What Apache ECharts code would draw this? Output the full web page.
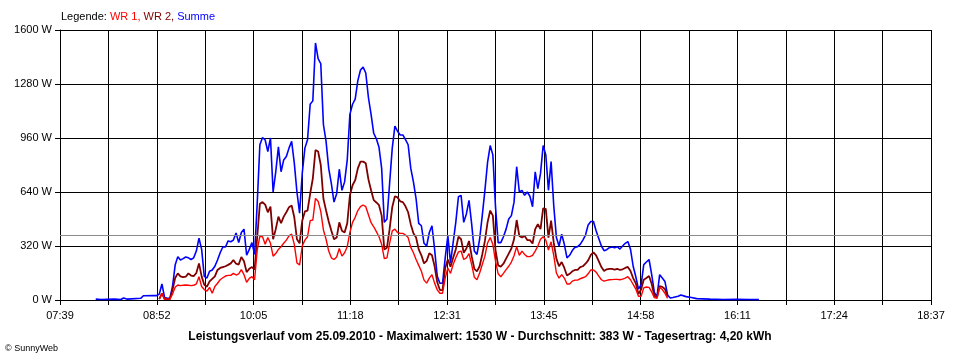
<!DOCTYPE html>
<html><head><meta charset="utf-8">
<script src="https://cdn.jsdelivr.net/npm/echarts@6/dist/echarts.min.js"></script>
<style>html,body{margin:0;padding:0;background:#fff}#c{width:960px;height:360px}</style>
</head><body><div id="c"></div>
<script>
const times = [
'08:06','08:10','08:20','08:25','08:27','08:30','08:40','08:42','08:50',
'08:52','08:54','08:56','08:58','09:00','09:02','09:04','09:06','09:08','09:10',
'09:12','09:14','09:16','09:18','09:20','09:22','09:24','09:26','09:28','09:30',
'09:32','09:34','09:36','09:38','09:40','09:42','09:44','09:46','09:48','09:50',
'09:52','09:54','09:56','09:58','10:00','10:02','10:04','10:06','10:08','10:10',
'10:12','10:14','10:16','10:18','10:20','10:22','10:24','10:26','10:28','10:30',
'10:32','10:34','10:36','10:38','10:40','10:42','10:44','10:46','10:48','10:50',
'10:52','10:54','10:56','10:58','11:00','11:02','11:04','11:06','11:08','11:10',
'11:12','11:14','11:16','11:18','11:20','11:22','11:24','11:26','11:28','11:30',
'11:32','11:34','11:36','11:38','11:40','11:42','11:44','11:46','11:48','11:50',
'11:52','11:54','11:56','11:58','12:00','12:02','12:04','12:06','12:08','12:10',
'12:12','12:14','12:16','12:18','12:20','12:22','12:24','12:26','12:28','12:30',
'12:32','12:34','12:36','12:38','12:40','12:42','12:44','12:46','12:48','12:50',
'12:52','12:54','12:56','12:58','13:00','13:02','13:04','13:06','13:08','13:10',
'13:12','13:14','13:16','13:18','13:20','13:22','13:24','13:26','13:28','13:30',
'13:32','13:34','13:36','13:38','13:40','13:42','13:44','13:46','13:48','13:50',
'13:52','13:54','13:56','13:58','14:00','14:02','14:04','14:06','14:08','14:10',
'14:12','14:14','14:16','14:18','14:20','14:22','14:24','14:26','14:28','14:30',
'14:32','14:34','14:36','14:38','14:40','14:42','14:44','14:46','14:48','14:50',
'14:52','14:54','14:56','14:58','15:00','15:02','15:04','15:06','15:08','15:10',
'15:12','15:14','15:16','15:18','15:20',
'15:22','15:26','15:28','15:32','15:36','15:40','15:50','16:00','16:10','16:20','16:27'
];
const summe = [
5,3,5,3,12,5,10,25,26,
26,35,95,15,10,10,80,207,257,237,
245,255,250,240,250,290,367,300,140,130,
170,178,200,237,280,314,314,350,345,355,
397,340,400,420,265,300,340,270,575,920,
963,948,880,960,640,760,907,760,830,850,
900,940,811,640,515,750,900,950,1160,1180,
1523,1430,1400,1040,940,780,690,580,630,775,
650,700,830,1100,1160,1190,1300,1363,1380,1345,
1200,1100,988,955,905,780,460,480,690,900,
1030,1000,978,978,950,920,780,700,600,454,
440,336,320,400,440,300,140,99,99,250,
380,220,340,460,612,620,460,510,590,450,
290,270,360,500,650,815,915,860,553,340,
340,375,420,480,500,580,790,640,650,620,
640,615,553,760,660,750,915,860,650,820,
560,370,320,390,330,250,265,293,312,316,
330,355,385,445,465,465,410,365,320,292,
298,310,314,310,316,302,320,336,346,300,
200,138,65,90,210,225,240,150,45,18,
150,130,110,30,12,
15,22,30,20,15,8,5,3,4,3,2
];
const wr1 = [
null,null,null,null,null,null,null,null,null,
null,5,40,5,5,5,35,75,89,85,
87,89,87,85,87,95,138,80,62,52,
75,40,80,99,120,132,142,146,146,158,
148,155,180,150,105,128,138,120,296,378,
375,330,370,336,260,275,300,316,336,355,
380,390,330,220,207,320,355,375,470,474,
602,585,525,415,360,290,250,240,255,305,
260,280,316,400,460,490,530,553,563,553,
505,458,434,405,375,330,245,250,335,410,
420,400,395,395,385,370,312,280,240,205,
170,118,100,130,150,100,60,40,40,130,
190,158,210,250,285,290,240,250,275,210,
135,120,160,210,260,338,370,330,230,155,
138,158,180,200,225,262,316,265,290,270,
257,257,265,290,320,360,375,355,296,345,
265,160,130,150,130,95,95,112,118,118,
126,132,138,155,178,178,165,142,120,112,
116,120,121,122,122,120,124,130,138,120,
92,65,22,22,72,77,75,48,14,10,
75,62,40,10,null,
null,null,null,null,null,null,null,null,null,null,null
];
const wr2 = [
null,null,null,null,null,null,null,null,null,
null,5,40,5,5,5,60,130,158,140,
135,138,158,145,142,160,217,140,90,79,
110,125,140,178,190,195,200,208,217,237,
215,210,255,230,165,185,195,180,375,570,
580,565,520,553,360,420,494,455,494,520,
550,560,490,360,336,470,525,530,630,720,
889,880,800,600,530,465,410,360,370,460,
410,400,455,620,680,710,780,820,820,810,
715,650,592,578,562,500,300,310,420,550,
615,608,585,580,555,520,448,395,370,300,
265,217,232,277,265,200,105,59,59,190,
240,197,250,300,375,360,280,305,350,260,
185,170,200,270,350,460,530,500,296,205,
198,215,245,275,305,360,474,380,370,380,
355,355,335,420,450,420,543,540,370,470,
340,245,200,225,190,145,155,170,178,178,
195,200,215,235,267,282,265,230,195,172,
182,185,184,180,185,178,182,190,196,172,
130,99,35,62,120,130,142,95,25,15,
82,78,65,20,null,
null,null,null,null,null,null,null,null,null,null,null
];
const tickLabels = ['07:39','08:52','10:05','11:18','12:31','13:45','14:58','16:11','17:24','18:37'];
const yTicks = [0,320,640,960,1280,1600];
const average = 383;
const legendParts = ['Legende: ','WR 1, ','WR 2, ','Summe'];
const bottomText = 'Leistungsverlauf vom 25.09.2010 - Maximalwert: 1530 W - Durchschnitt: 383 W - Tagesertrag: 4,20 kWh';
const copyright = '\u00A9 SunnyWeb';

const STEPS = 9; // axis units per minute
function toMin(s){const p=s.split(':');return (+p[0])*60+(+p[1]);}
const start = toMin(tickLabels[0]);
const end = toMin(tickLabels[tickLabels.length-1]);
const span = (end-start)*STEPS;
const gridInt = span/((tickLabels.length-1)*2);
function pts(vals){return times.map((t,i)=>[(toMin(t)-start)*STEPS, vals[i]]);}

const FONT = 'Liberation Sans';
const chart = echarts.init(document.getElementById('c'), null, {renderer:'canvas'});
chart.setOption({
  animation:false,
  backgroundColor:'#fff',
  textStyle:{fontFamily:FONT},
  title:[
    {left:61, top:11, padding:0, text:'{k|'+legendParts[0]+'}{a|'+legendParts[1]+'}{b|'+legendParts[2]+'}{c|'+legendParts[3]+'}',
     textStyle:{fontSize:11, fontWeight:'normal', fontFamily:FONT, rich:{
       k:{color:'#000',fontSize:11,fontFamily:FONT},
       a:{color:'#ff0000',fontSize:11,fontFamily:FONT},
       b:{color:'#800000',fontSize:11,fontFamily:FONT},
       c:{color:'#0000ff',fontSize:11,fontFamily:FONT}}}},
    {left:'center', top:331, padding:0, text:bottomText,
     textStyle:{fontSize:12, fontWeight:'bold', color:'#000', fontFamily:FONT}}
  ],
  graphic:[{type:'text', left:5, top:344, style:{text:copyright, fill:'#000', font:'9px '+FONT}}],
  grid:{left:60, right:29, top:30, bottom:60, containLabel:false},
  xAxis:{
    type:'value', min:0, max:span, interval:gridInt,
    axisLine:{show:true, lineStyle:{color:'#000', width:1}},
    axisTick:{show:true, length:5, inside:false, lineStyle:{color:'#000'}},
    splitLine:{show:true, lineStyle:{color:'#000', width:1}},
    axisLabel:{color:'#000', fontSize:11, fontFamily:FONT, margin:10, showMaxLabel:true, showMinLabel:true,
      formatter:function(v){const k=Math.round(v/gridInt);return k%2?'':tickLabels[k/2];}}
  },
  yAxis:{
    type:'value', min:yTicks[0], max:yTicks[yTicks.length-1], interval:yTicks[1]-yTicks[0],
    axisLine:{show:true, lineStyle:{color:'#000', width:1}},
    axisTick:{show:true, length:5, lineStyle:{color:'#000'}},
    splitLine:{show:true, lineStyle:{color:'#000', width:1}},
    axisLabel:{color:'#000', fontSize:11, fontFamily:FONT, margin:8, formatter:function(v){return String(v)+' W';}}
  },
  series:[
    {name:'Summe', type:'line', data:pts(summe), showSymbol:false, symbol:'none',
     lineStyle:{color:'#0000ff', width:1.6}, itemStyle:{color:'#0000ff'},
     markLine:{silent:true, symbol:['none','none'], label:{show:false},
       lineStyle:{color:'#8c8c8c', width:1, type:'solid'}, data:[{yAxis:average}]}},
    {name:'WR 2', type:'line', data:pts(wr2), showSymbol:false, symbol:'none',
     lineStyle:{color:'#800000', width:1.8}, itemStyle:{color:'#800000'}},
    {name:'WR 1', type:'line', data:pts(wr1), showSymbol:false, symbol:'none',
     lineStyle:{color:'#ff0000', width:1.4}, itemStyle:{color:'#ff0000'}}
  ]
});
</script></body></html>
